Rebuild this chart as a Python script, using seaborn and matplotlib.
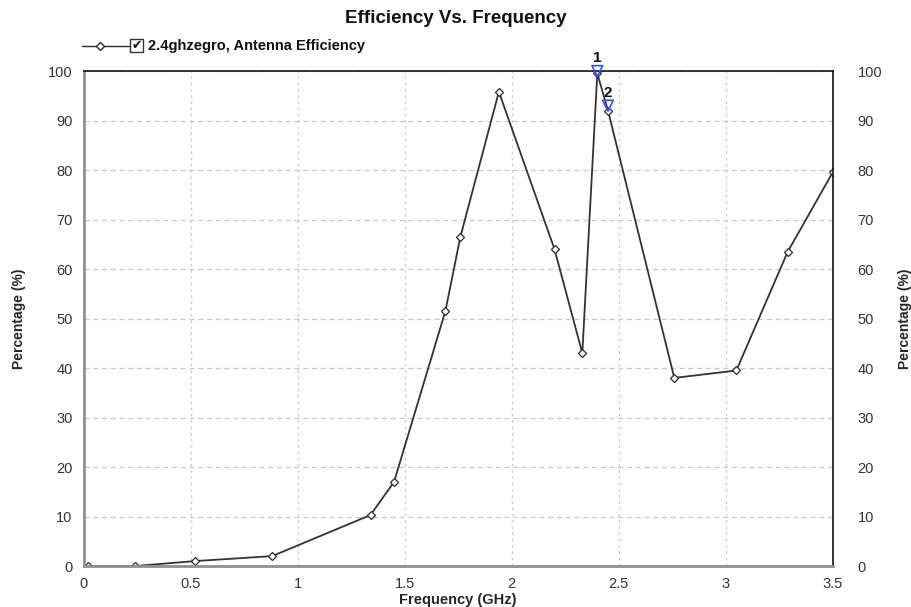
import matplotlib
matplotlib.use("Agg")
import matplotlib.pyplot as plt
import seaborn as sns
import pandas as pd
from matplotlib.lines import Line2D
from matplotlib.patches import Rectangle

freq_ghz = [0.02, 0.24, 0.52, 0.88, 1.34, 1.45, 1.69, 1.76, 1.94, 2.20, 2.33, 2.40, 2.45, 2.76, 3.05, 3.29, 3.50]
efficiency = [0.0, 0.0, 1.0, 2.0, 10.3, 17.0, 51.5, 66.5, 95.8, 64.0, 43.0, 99.5, 92.0, 38.0, 39.5, 63.5, 79.5]
marker_ids = ["1", "2"]
marker_freq = [2.40, 2.45]
marker_val = [100.0, 93.0]
x_ticks = [0, 0.5, 1, 1.5, 2, 2.5, 3, 3.5]
x_tick_labels = ["0", "0.5", "1", "1.5", "2", "2.5", "3", "3.5"]
y_ticks = [0, 10, 20, 30, 40, 50, 60, 70, 80, 90, 100]

df = pd.DataFrame({"freq": freq_ghz, "eff": efficiency})

sns.set_style("white")
plt.rcParams['font.family'] = ['Liberation Sans', 'DejaVu Sans']
narrow = ['Liberation Sans Narrow', 'Liberation Sans', 'DejaVu Sans']

fig = plt.figure(figsize=(9.11, 6.07), dpi=100)
ax = fig.add_axes([0.092, 0.0675, 0.822, 0.8155])

sns.lineplot(data=df, x="freq", y="eff", ax=ax, color="#333333", lw=1.3,
             marker="D", markersize=4, markerfacecolor="white",
             markeredgecolor="#2a2a2a", markeredgewidth=0.9)

# markers
ax.scatter(marker_freq, marker_val, marker="v", s=60, facecolor="none",
           edgecolor="#3050ff", linewidths=1.2, zorder=5, clip_on=False)
for mid, mx, my in zip(marker_ids, marker_freq, marker_val):
    ax.text(mx, my + 1.2, mid, ha="center", va="bottom", fontsize=11,
            fontweight="bold", color="#111111", clip_on=False)

ax.set_xlim(0, 3.5)
ax.set_ylim(0, 100)
ax.set_xticks(x_ticks)
ax.set_xticklabels(x_tick_labels)
ax.set_yticks(y_ticks)
ax.set_yticklabels([str(v) for v in y_ticks])

ax.grid(True, axis="y", color="#c8c8c8", linestyle=(0, (4, 3)), lw=0.9)
ax.grid(True, axis="x", color="#c8c8c8", linestyle=(0, (2, 3)), lw=0.9)

for s in ["top", "right"]:
    ax.spines[s].set_color("#111111")
    ax.spines[s].set_linewidth(1.2)
for s in ["left", "bottom"]:
    ax.spines[s].set_color("#909090")
    ax.spines[s].set_linewidth(2.0)

ax.tick_params(axis="both", labelsize=10.5, colors="#333333", length=0, pad=8)
ax.set_xlabel("Frequency (GHz)", fontsize=10.5, fontweight="bold", family=narrow, labelpad=1)
ax.set_ylabel("Percentage (%)", fontsize=10, fontweight="bold", family=narrow)
ax.yaxis.set_label_coords(-0.077, 0.5)

ax2 = ax.twinx()
ax2.set_ylim(0, 100)
ax2.set_yticks(y_ticks)
ax2.tick_params(axis="y", labelsize=10.5, colors="#333333", length=0, pad=18)
ax2.set_ylabel("Percentage (%)", fontsize=10, fontweight="bold", family=narrow)
ax2.yaxis.set_label_coords(1.087, 0.5)
for s in ax2.spines.values():
    s.set_visible(False)

fig.text(0.5, 0.970, "Efficiency Vs. Frequency", ha="center", va="center",
         fontsize=13.5, fontweight="bold", color="#111111")

# legend-like header
fig.add_artist(Line2D([0.090, 0.142], [0.924, 0.924], transform=fig.transFigure,
                      color="#2a2a2a", lw=1.0))
fig.add_artist(Line2D([0.1095], [0.924], transform=fig.transFigure,
                      color="#2a2a2a", marker="D", markersize=4,
                      markerfacecolor="white", lw=0))
fig.add_artist(Rectangle((0.1425, 0.914), 0.015, 0.021, transform=fig.transFigure,
                         facecolor="white", edgecolor="#333333", lw=1.0))
fig.text(0.150, 0.925, "\u2714", ha="center", va="center", fontsize=9,
         family=['DejaVu Sans'], color="#111111")
fig.text(0.163, 0.924, "2.4ghzegro, Antenna Efficiency", ha="left", va="center",
         fontsize=10.5, fontweight="bold", color="#111111")

fig.savefig("out.png", dpi=100)
